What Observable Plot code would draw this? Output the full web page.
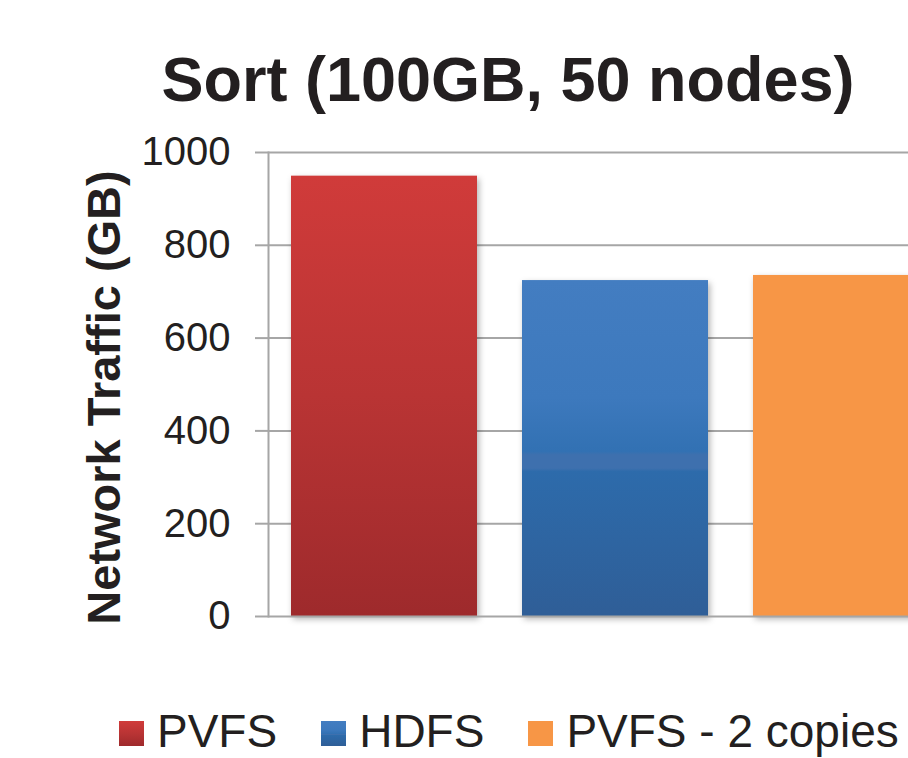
<!DOCTYPE html>
<html>
<head>
<meta charset="utf-8">
<script src="https://cdn.jsdelivr.net/npm/d3@7"></script>
<script src="https://cdn.jsdelivr.net/npm/@observablehq/plot@0.6"></script>
<style>
html, body { margin: 0; padding: 0; background: #fff; overflow: hidden; }
#wrap { position: relative; width: 908px; height: 758px; font-family: "Liberation Sans", Arial, sans-serif; color: #231f20; }
#title { position: absolute; left: 108px; width: 800px; top: 48px; text-align: center; font-size: 63px; line-height: 63px; font-weight: bold; white-space: nowrap; }
#chart { position: absolute; left: 0; top: 120px; }
#legend { position: absolute; left: 119px; top: 711px; width: max-content; display: flex; align-items: center; font-size: 46px; line-height: 40px; white-space: nowrap; }
.item { display: flex; align-items: center; margin-right: 44px; flex-shrink: 0; height: 40px; }
.item:last-child { margin-right: 0; }
.item span { display: block; height: 40px; line-height: 40px; }
.sw { width: 25px; height: 25px; margin-right: 13px; flex-shrink: 0; position: relative; top: 2px; }
</style>
</head>
<body>
<div id="wrap">
  <div id="title"></div>
  <div id="chart"></div>
  <div id="legend"></div>
</div>
<script>
// ---- data ----
const titleText = "Sort (100GB, 50 nodes)";
const yLabel = "Network Traffic (GB)";
const categories = ["PVFS", "HDFS", "PVFS - 2 copies"];
const traffic = [949, 724, 735];
const yTicks = [0, 200, 400, 600, 800, 1000];

// ---- styles ----
const gradients = [
  {id: "gPVFS", stops: [[0, "#d03b3a"], [0.5, "#b93434"], [1, "#9e2a2c"]]},
  {id: "gHDFS", stops: [[0, "#437dc1"], [0.35, "#3d79bd"], [0.51, "#3271b3"], [0.52, "#3e70ae"], [0.56, "#3e70ae"], [0.57, "#2d6bab"], [1, "#2f5e97"]]},
  {id: "gPVFS2", stops: [[0, "#f79646"], [1, "#f79646"]]}
];
const fills = gradients.map(g => `url(#${g.id})`);
const swatchCss = gradients.map(g => `linear-gradient(to bottom, ${g.stops.map(s => `${s[1]} ${s[0] * 100}%`).join(", ")})`);

const rows = categories.map((c, i) => ({category: c, value: traffic[i]}));

document.getElementById("title").textContent = titleText;

const chart = Plot.plot({
  width: 908,
  height: 540,
  marginTop: 32,
  marginBottom: 44,
  marginLeft: 268,
  marginRight: 0,
  style: {fontFamily: "'Liberation Sans', Arial, sans-serif", background: "white", color: "#231f20", overflow: "hidden"},
  x: {domain: categories, range: [268, 961], paddingInner: 0.195, paddingOuter: 0.0975, axis: null},
  y: {domain: [0, 1000]},
  color: {domain: categories, range: fills},
  marks: [
    Plot.ruleY(yTicks.filter(t => t !== 0), {stroke: "#a6a6a6", strokeWidth: 2}),
    Plot.axisY({ticks: yTicks, tickSize: 13, tickPadding: 25, fontSize: 40, stroke: "#a6a6a6", strokeWidth: 2, fill: "#231f20", label: null, tickFormat: d => String(d)}),
    Plot.barY(rows, {x: "category", y: "value", fill: "category"}),
    Plot.ruleY([0], {stroke: "#a6a6a6", strokeWidth: 2}),
    Plot.frame({anchor: "left", stroke: "#a6a6a6", strokeWidth: 2}),
    Plot.text([yLabel], {frameAnchor: "left", textAnchor: "middle", rotate: -90, dx: -164, dy: 13, fontSize: 47, fontWeight: "bold", fill: "#231f20", text: d => d})
  ]
});

// gradient definitions
const svg = d3.select(chart);
const defs = svg.insert("defs", ":first-child");
gradients.forEach(g => {
  const lg = defs.append("linearGradient").attr("id", g.id).attr("x1", 0).attr("y1", 0).attr("x2", 0).attr("y2", 1);
  g.stops.forEach(s => lg.append("stop").attr("offset", s[0]).attr("stop-color", s[1]));
});
svg.selectAll("g[aria-label='bar'] rect").style("filter", "drop-shadow(2px 3px 3px rgba(0,0,0,0.3))");

document.getElementById("chart").appendChild(chart);

// legend
const legend = d3.select("#legend");
categories.forEach((c, i) => {
  const item = legend.append("div").attr("class", "item");
  item.append("div").attr("class", "sw").style("background", swatchCss[i]);
  item.append("span").text(c);
});
</script>
</body>
</html>
